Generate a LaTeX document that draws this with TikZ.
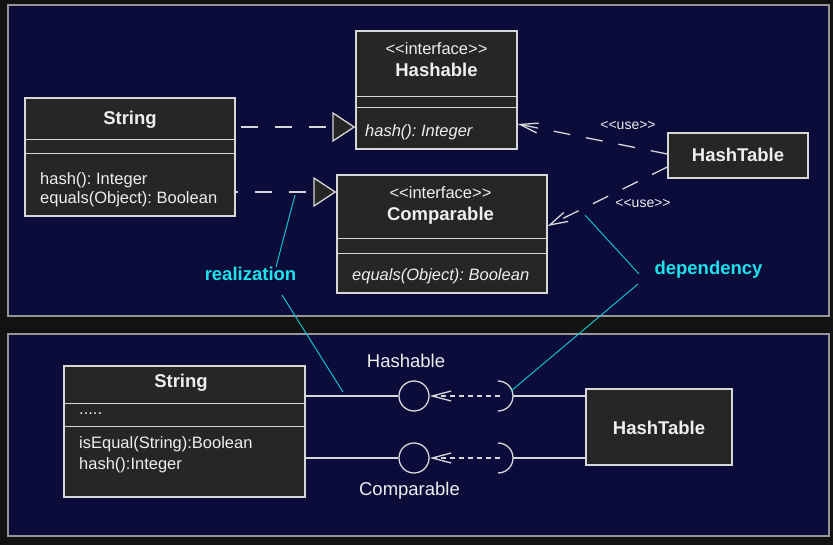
\documentclass[tikz,border=0pt]{standalone}
\usepackage{fontspec}
\setmainfont{Liberation Sans}[Ligatures=TeXOff]
\usetikzlibrary{arrows.meta}
\frenchspacing
\definecolor{bgc}{RGB}{18,18,18}
\definecolor{panelc}{RGB}{12,12,58}
\definecolor{panelb}{RGB}{150,150,150}
\definecolor{boxfill}{RGB}{38,38,38}
\definecolor{boxline}{RGB}{215,215,215}
\definecolor{txt}{RGB}{238,238,238}
\definecolor{cyantxt}{RGB}{30,225,235}
\definecolor{cyanline}{RGB}{20,190,205}
\tikzset{
  panel/.style={draw=panelb, fill=panelc, line width=1.5pt},
  cls/.style={draw=boxline, fill=boxfill, line width=1.3pt, inner sep=0pt},
  sep/.style={draw=boxline, line width=1.3pt},
  ttl/.style={text=txt, font=\fontsize{18.5}{22}\selectfont\bfseries, inner sep=0pt, anchor=base},
  reg/.style={text=txt, font=\fontsize{16.5}{19}\selectfont, inner sep=0pt, anchor=base},
  regl/.style={reg, anchor=base west},
  itl/.style={text=txt, font=\fontsize{16.5}{19}\selectfont\itshape, inner sep=0pt, anchor=base west},
  usetxt/.style={text=txt, font=\fontsize{14}{16}\selectfont, inner sep=0pt, anchor=base},
  biglbl/.style={text=txt, font=\fontsize{18.5}{22}\selectfont, inner sep=0pt, anchor=base},
  note/.style={text=cyantxt, font=\fontsize{18.5}{22}\selectfont\bfseries, inner sep=0pt, anchor=base},
  noteline/.style={draw=cyanline, line width=1pt},
  real/.style={draw=boxline, line width=1.3pt, dash pattern=on 17pt off 17pt,
    -{Triangle[length=23pt,width=30pt,fill=boxfill]}},
  dep/.style={draw=boxline, line width=1.3pt, dash pattern=on 17pt off 16pt,
    -{Straight Barb[length=18pt,width=10pt]}},
  ldep/.style={draw=boxline, line width=1.3pt, dash pattern=on 5pt off 4pt,
    -{Straight Barb[length=19pt,width=10pt]}},
  wire/.style={draw=boxline, line width=1.3pt},
  lolli/.style={circle, draw=boxline, line width=1.3pt, minimum size=30pt, inner sep=0pt},
}
\begin{document}
\begin{tikzpicture}[x=1pt,y=-1pt]
\useasboundingbox[fill=bgc] (0,0) rectangle (833,545);
% panels
\draw[panel] (8,5) rectangle (829,316);
\draw[panel] (8,334) rectangle (829,536);

% ---------- top panel ----------
% String
\node[cls, minimum width=210pt, minimum height=118pt] (S1) at (130,157) {};
\draw[sep] ([yshift=-42pt]S1.north west) -- ([yshift=-42pt]S1.north east);
\draw[sep] ([yshift=-56pt]S1.north west) -- ([yshift=-56pt]S1.north east);
\node[ttl] (S1t) at (130,124.5) {String};
\node[regl] (S1m1) at (40,185) {hash(): Integer};
\node[regl] (S1m2) at (40,204) {equals(Object): Boolean};

% Hashable
\node[cls, minimum width=161pt, minimum height=118pt] (H1) at (436.5,90) {};
\draw[sep] ([yshift=-66pt]H1.north west) -- ([yshift=-66pt]H1.north east);
\draw[sep] ([yshift=-77pt]H1.north west) -- ([yshift=-77pt]H1.north east);
\node[reg] (H1s) at (436.5,55) {<<interface>>};
\node[ttl] (H1t) at (436.5,77) {Hashable};
\node[itl] (H1m) at (365,137) {hash(): Integer};

% Comparable
\node[cls, minimum width=210pt, minimum height=118pt] (C1) at (442,234) {};
\draw[sep] ([yshift=-64pt]C1.north west) -- ([yshift=-64pt]C1.north east);
\draw[sep] ([yshift=-79pt]C1.north west) -- ([yshift=-79pt]C1.north east);
\node[reg] (C1s) at (440.5,199) {<<interface>>};
\node[ttl] (C1t) at (440.5,220.5) {Comparable};
\node[itl] (C1m) at (352,281) {equals(Object): Boolean};

% HashTable
\node[cls, minimum width=140pt, minimum height=45pt] (T1) at (738,155.5) {};
\node[ttl] (T1t) at (738,162) {HashTable};

% realization connectors
\draw[real, dash phase=29pt] ([yshift=30pt]S1.east) -- ([yshift=-37pt]H1.west);
\draw[real, dash phase=15pt] ([yshift=-35pt]S1.east) -- ([yshift=42pt]C1.west);

% dependency connectors
\draw[dep] ([yshift=1.5pt]T1.west) -- ([yshift=-34pt]H1.east);
\draw[dep] ([yshift=-11.5pt]T1.west) -- ([yshift=8pt]C1.east);
\node[usetxt] (U1) at (628,130) {<<use>>};
\node[usetxt] (U2) at (643,208) {<<use>>};

% notes
\node[note] (RN) at (250.5,281) {realization};
\node[note] (DN) at (708.5,275) {dependency};

% ---------- bottom panel ----------
\node[cls, minimum width=241pt, minimum height=131pt] (S2) at (184.5,431.5) {};
\draw[sep] ([yshift=-38pt]S2.north west) -- ([yshift=-38pt]S2.north east);
\draw[sep] ([yshift=-61pt]S2.north west) -- ([yshift=-61pt]S2.north east);
\node[ttl] (S2t) at (181,388) {String};
\node[regl] (S2a) at (79,414) {.....};
\node[regl] (S2m1) at (79,448) {isEqual(String):Boolean};
\node[regl] (S2m2) at (79,469.5) {hash():Integer};

\node[cls, minimum width=146pt, minimum height=76pt] (T2) at (659,427) {};
\node[ttl] (T2t) at (659,434) {HashTable};

\node[lolli] (LH) at (414,396) {};
\node[lolli] (LC) at (414,458) {};
\node[biglbl] (LHt) at (406,367) {Hashable};
\node[biglbl] (LCt) at (409.5,495) {Comparable};

\coordinate (SH) at (498,396);
\coordinate (SC) at (498,458);
\coordinate (SHr) at (513,396);
\coordinate (SCr) at (513,458);
\draw[wire] ([yshift=15pt]SH) arc[start angle=90, end angle=-90, radius=15pt];
\draw[wire] ([yshift=15pt]SC) arc[start angle=90, end angle=-90, radius=15pt];

\draw[wire] ([yshift=35.5pt]S2.east) -- (LH.west);
\draw[wire] ([yshift=-26.5pt]S2.east) -- (LC.west);
\draw[ldep] ([xshift=2pt]SH) -- (LH.east);
\draw[ldep] ([xshift=2pt]SC) -- (LC.east);
\draw[wire] (SHr) -- (T2.west |- SHr);
\draw[wire] (SCr) -- (T2.west |- SCr);

% note lines
\coordinate (r1a) at (295,195);
\coordinate (r1b) at (276,267);
\coordinate (r2a) at (282,295);
\coordinate (r2b) at (343,392);
\coordinate (d1a) at (585,215);
\coordinate (d1b) at (639,274);
\coordinate (d2a) at (638,284);
\coordinate (d2b) at (511,391);
\draw[noteline] (r1a) -- (r1b);
\draw[noteline] (r2a) -- (r2b);
\draw[noteline] (d1a) -- (d1b);
\draw[noteline] (d2a) -- (d2b);
\end{tikzpicture}
\end{document}
